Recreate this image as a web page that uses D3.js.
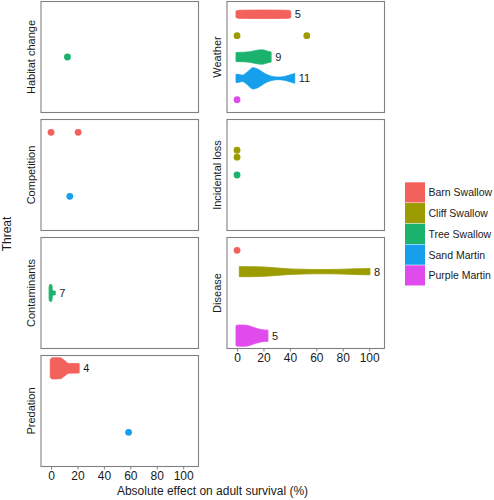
<!DOCTYPE html>
<html><head><meta charset="utf-8">
<script src="https://cdn.jsdelivr.net/npm/d3@7"></script>
<style>
body{margin:0;background:#fff}
svg{display:block}
text{font-family:"Liberation Sans",Arial,Helvetica,sans-serif;fill:#1a1a1a}
</style>
</head><body>
<svg id="chart" width="494" height="500"></svg>
<script>
// ---------- data ----------
const species = ["Barn Swallow","Cliff Swallow","Tree Swallow","Sand Martin","Purple Martin"];
const speciesColors = ["#F2615C","#9C9C00","#1BB26E","#16A0EC","#E04CEC"];
const leftThreats = ["Habitat change","Competition","Contaminants","Predation"];
const rightThreats = ["Weather","Incidental loss","Disease"];
const xTicks = [0,20,40,60,80,100];
const xDomain = [-7.6, 111.6];

// single estimates (groups with too few studies for a violin)
const pointThreat  = ["Habitat change","Competition","Competition","Competition","Predation","Weather","Weather","Weather","Incidental loss","Incidental loss","Incidental loss","Disease"];
const pointSpecies = ["Tree Swallow","Barn Swallow","Barn Swallow","Sand Martin","Sand Martin","Cliff Swallow","Cliff Swallow","Purple Martin","Cliff Swallow","Cliff Swallow","Tree Swallow","Barn Swallow"];
const pointValue   = [12.4, 0, 20.5, 14.2, 58.7, 0, 52.8, 0, 0, 0, 0, 0];

// violins: threat, species, number of estimates, density profile [effect %, relative width]
const violinThreat  = ["Contaminants","Predation","Weather","Weather","Weather","Disease","Disease"];
const violinSpecies = ["Tree Swallow","Barn Swallow","Barn Swallow","Tree Swallow","Sand Martin","Cliff Swallow","Purple Martin"];
const violinN       = [7, 4, 5, 9, 11, 8, 5];
const violinProfiles = [
  [[-1.5,0.55],[-1,0.78],[0,0.8],[0.6,0.74],[1.1,0.2],[3.2,0.18]],
  [[-0.6,0.85],[1,1.0],[7,0.98],[10,0.75],[13.5,0.46],[21.3,0.44]],
  [[-0.8,0.3],[1.5,0.38],[20,0.4],[38.5,0.38],[40.7,0.3]],
  [[-0.8,0.42],[5,0.45],[10,0.5],[15,0.63],[19,0.68],[23,0.55],[25.8,0.46]],
  [[-0.8,0.38],[1.5,0.36],[4,0.3],[8,0.62],[12,1.0],[16,0.85],[21,0.45],[26,0.2],[31,0.12],[36,0.18],[41,0.36],[43.7,0.46]],
  [[1.7,0.47],[10,0.47],[20,0.44],[30,0.35],[40,0.26],[50,0.22],[60,0.2],[70,0.2],[80,0.23],[90,0.27],[100.6,0.3]],
  [[-0.8,0.95],[2,1.0],[7,0.98],[12,0.8],[18,0.58],[23.4,0.52]]
];

// ---------- layout ----------
const svg = d3.select("#chart");
const colLeft = [41, 227];
const panelW = 157.5, panelH = 111, top0 = 1.5, rowStep = 118;
const columns = [leftThreats, rightThreats];
const color = d3.scaleOrdinal().domain(species).range(speciesColors);

const panels = {};
columns.forEach((threats, c) => {
  threats.forEach((t, r) => {
    const x0 = colLeft[c], y0 = top0 + r * rowStep;
    const x = d3.scaleLinear().domain(xDomain).range([x0, x0 + panelW]);
    const y = d3.scalePoint().domain(species).range([y0, y0 + panelH]).padding(0.6);
    panels[t] = {x, y, x0, y0, last: r === threats.length - 1};
  });
});

Object.entries(panels).forEach(([t, p]) => {
  const g = svg.append("g");
  g.append("rect").attr("x", p.x0).attr("y", p.y0).attr("width", panelW).attr("height", panelH)
    .attr("fill", "#fff").attr("stroke", "#808080").attr("stroke-width", 1.1);
  g.append("text").attr("transform", `translate(${p.x0 - 10.5},${p.y0 + panelH / 2}) rotate(-90)`)
    .attr("text-anchor", "middle").attr("dominant-baseline", "central")
    .style("font-size", "11px").text(t);
  if (p.last) {
    const ax = g.append("g").attr("transform", `translate(0,${p.y0 + panelH})`)
      .call(d3.axisBottom(p.x).tickValues(xTicks).tickSize(3).tickPadding(2));
    ax.select(".domain").remove();
    ax.selectAll(".tick line").attr("stroke", "#808080");
    ax.selectAll(".tick text").style("font-size", "12px").attr("fill", "#1a1a1a")
      .style("font-family", '"Liberation Sans",Arial,sans-serif');
  }
});

// violins
violinProfiles.forEach((prof, i) => {
  const p = panels[violinThreat[i]];
  const cy = p.y(violinSpecies[i]);
  const band = p.y.step();
  const col = color(violinSpecies[i]);
  const area = d3.area().curve(d3.curveMonotoneX)
    .x(d => p.x(d[0]))
    .y0(d => cy - d[1] * band / 2)
    .y1(d => cy + d[1] * band / 2);
  svg.append("path").attr("d", area(prof)).attr("fill", col)
    .attr("stroke", col).attr("stroke-width", 0.8);
  const maxV = d3.max(prof, d => d[0]);
  svg.append("text").attr("x", p.x(maxV) + 4).attr("y", cy)
    .attr("dominant-baseline", "central").style("font-size", "11px").text(violinN[i]);
});

// points (identical values within a group are spread vertically)
const seen = {};
const counts = {};
pointValue.forEach((v, i) => {
  const k = pointThreat[i] + "|" + pointSpecies[i] + "|" + v;
  counts[k] = (counts[k] || 0) + 1;
});
pointValue.forEach((v, i) => {
  const p = panels[pointThreat[i]];
  const k = pointThreat[i] + "|" + pointSpecies[i] + "|" + v;
  const idx = seen[k] = (seen[k] === undefined ? 0 : seen[k] + 1);
  const off = (idx - (counts[k] - 1) / 2) * 7;
  svg.append("circle").attr("cx", p.x(v)).attr("cy", p.y(pointSpecies[i]) + off)
    .attr("r", 3.4).attr("fill", color(pointSpecies[i]));
});

// axis titles
svg.append("text").attr("x", 212.5).attr("y", 491).attr("text-anchor", "middle")
  .attr("dominant-baseline", "central").style("font-size", "12px")
  .text("Absolute effect on adult survival (%)");
svg.append("text").attr("transform", "translate(7,234) rotate(-90)")
  .attr("text-anchor", "middle").attr("dominant-baseline", "central")
  .style("font-size", "12px").text("Threat");

// legend
const lg = svg.append("g").attr("transform", "translate(405,182.3)");
species.forEach((s, i) => {
  lg.append("rect").attr("x", 0).attr("y", i * 20.75).attr("width", 20).attr("height", 20.2)
    .attr("fill", color(s));
  lg.append("text").attr("x", 23.5).attr("y", i * 20.75 + 10.2)
    .attr("dominant-baseline", "central").style("font-size", "10.5px").text(s);
});
</script>
</body></html>
